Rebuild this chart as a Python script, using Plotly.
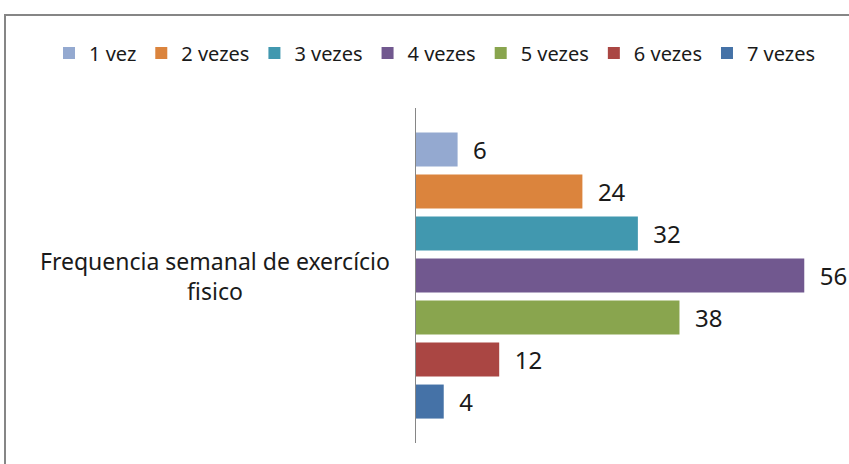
import plotly.graph_objects as go

category = ["Frequencia semanal de exercício fisico"]
series_names = ["1 vez", "2 vezes", "3 vezes", "4 vezes", "5 vezes", "6 vezes", "7 vezes"]
series_values = [6, 24, 32, 56, 38, 12, 4]
series_colors = ["#94A9D0", "#DB843D", "#4198AF", "#71588F", "#89A54E", "#AA4643", "#4572A7"]

FONT = "Noto Sans, Open Sans, sans-serif"

fig = go.Figure()
for name, val, col in zip(series_names, series_values, series_colors):
    fig.add_trace(go.Bar(
        y=category, x=[val], name=name, orientation="h",
        marker=dict(color=col, line=dict(width=0)),
        text=[val], texttemplate="\u00a0\u00a0%{x}", textposition="outside",
        textfont=dict(family=FONT, size=24, color="#1a1a1a"),
        cliponaxis=False, constraintext="none",
        hoverinfo="skip",
    ))

W, H = 849, 464
L, R, T, B = 416, 17, 108, 21
pw = W - L - R
ph = H - T - B

def px_to_paper_x(px):
    return (px - L) / pw

def px_to_paper_y(py):
    return (H - B - py) / ph

fig.update_layout(
    width=W, height=H,
    margin=dict(l=L, r=R, t=T, b=B, pad=0, autoexpand=False),
    paper_bgcolor="white", plot_bgcolor="white",
    barmode="group", bargap=0.122, bargroupgap=0.19,
    showlegend=True,
    legend=dict(
        orientation="h",
        x=px_to_paper_x(49), xanchor="left",
        y=px_to_paper_y(53), yanchor="middle",
        font=dict(family=FONT, size=20, color="#1a1a1a"),
        itemwidth=30, tracegroupgap=0, bgcolor="rgba(0,0,0,0)",
        traceorder="normal",
    ),
    xaxis=dict(range=[0, 60], visible=False, fixedrange=True),
    yaxis=dict(
        autorange="reversed", showticklabels=False, ticks="",
        showline=True, linecolor="#868686", linewidth=1,
        showgrid=False, zeroline=False,
    ),
    shapes=[dict(
        type="rect", xref="paper", yref="paper",
        x0=px_to_paper_x(5), x1=px_to_paper_x(W + 20),
        y0=px_to_paper_y(H + 20), y1=px_to_paper_y(15),
        line=dict(color="#868686", width=2), fillcolor="rgba(0,0,0,0)",
        layer="below",
    )],
    annotations=[dict(
        text="Frequencia semanal de exercício<br>fisico",
        xref="paper", yref="y", x=px_to_paper_x(215), y=category[0],
        xanchor="center", yanchor="middle", showarrow=False, align="center",
        font=dict(family=FONT, size=23, color="#1a1a1a"),
    )],
)

fig.write_html("out.html", config={"displayModeBar": False},
               post_script="document.body.style.margin='0';")
